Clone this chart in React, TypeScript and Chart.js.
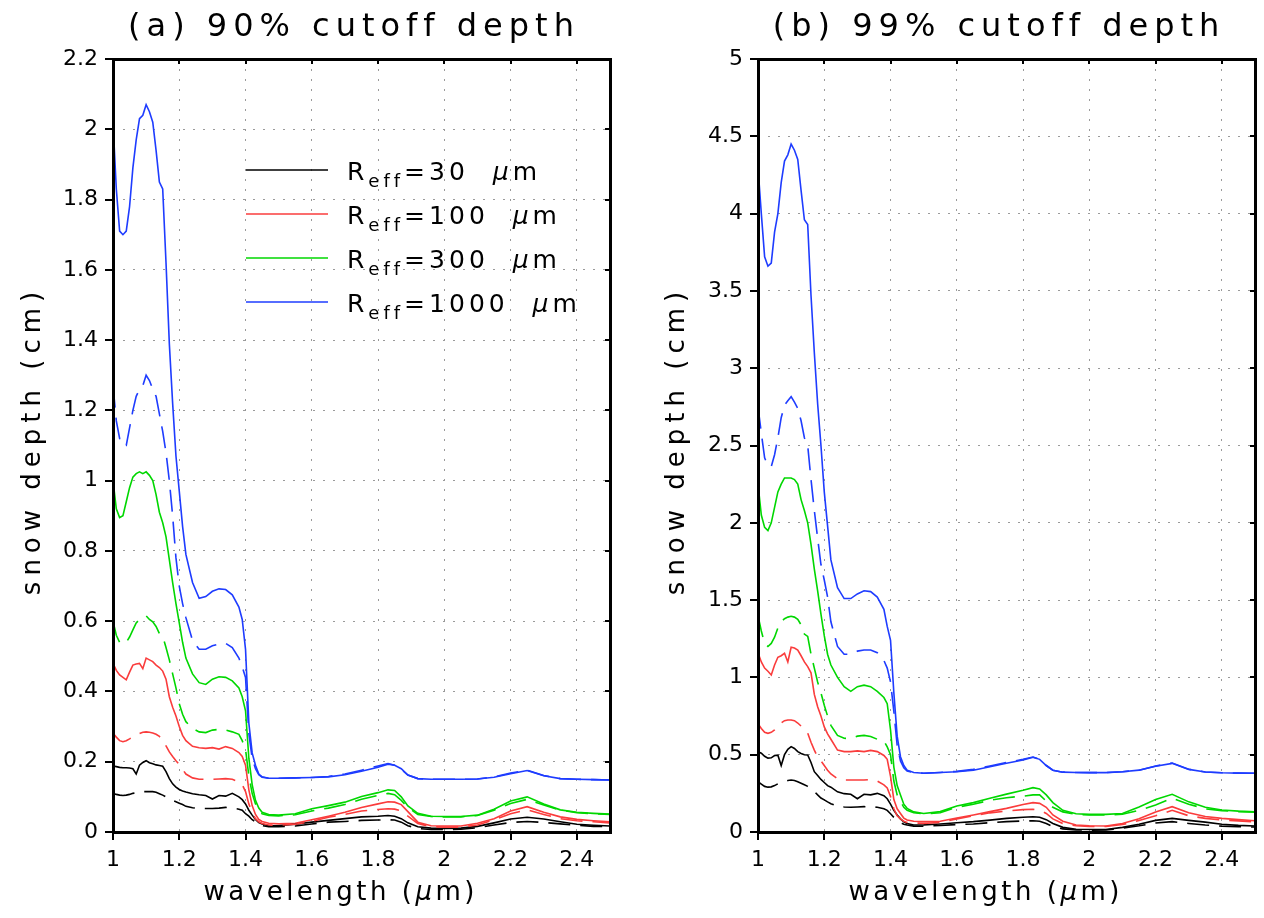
import React, { useEffect, useRef } from "react";
import { Chart, registerables } from "chart.js";

Chart.register(...registerables);

// ---------------- data ----------------
const WAVELENGTH = [
  1.00, 1.01, 1.02, 1.03, 1.04, 1.05, 1.06, 1.07, 1.08, 1.09,
  1.10, 1.11, 1.12, 1.13, 1.14, 1.15, 1.16, 1.17, 1.18, 1.19,
  1.20, 1.21, 1.22, 1.24, 1.26, 1.28, 1.30, 1.32, 1.34, 1.36,
  1.38, 1.39, 1.40, 1.41, 1.42, 1.43, 1.44, 1.45, 1.47, 1.50,
  1.55, 1.60, 1.65, 1.70, 1.75, 1.80, 1.83, 1.85, 1.87, 1.89,
  1.92, 1.96, 2.00, 2.05, 2.10, 2.15, 2.20, 2.25, 2.30, 2.35,
  2.40, 2.45, 2.50,
];

const X_TICKS = [1, 1.2, 1.4, 1.6, 1.8, 2, 2.2, 2.4];
const Y_TICKS_A = [0, 0.2, 0.4, 0.6, 0.8, 1, 1.2, 1.4, 1.6, 1.8, 2, 2.2];
const Y_TICKS_B = [0, 0.5, 1, 1.5, 2, 2.5, 3, 3.5, 4, 4.5, 5];

const RADII = ["30", "100", "300", "1000"];

// (a) 90% cutoff depth (cm)
const A_R30_SOLID = [
  0.188, 0.186, 0.184, 0.183, 0.183, 0.182, 0.180, 0.165, 0.190, 0.198,
  0.203, 0.197, 0.194, 0.191, 0.189, 0.187, 0.172, 0.152, 0.137, 0.128,
  0.121, 0.117, 0.114, 0.109, 0.106, 0.104, 0.094, 0.104, 0.102, 0.110,
  0.100, 0.092, 0.080, 0.062, 0.048, 0.036, 0.027, 0.023, 0.018, 0.018,
  0.022, 0.028, 0.033, 0.038, 0.043, 0.045, 0.047, 0.045, 0.038, 0.026,
  0.015, 0.011, 0.010, 0.011, 0.016, 0.026, 0.037, 0.042, 0.037, 0.029,
  0.022, 0.019, 0.017,
];
const A_R30_DASHED = [
  0.110, 0.107, 0.105, 0.104, 0.105, 0.107, 0.110, 0.112, 0.115, 0.115,
  0.115, 0.115, 0.115, 0.113, 0.109, 0.105, 0.100, 0.095, 0.090, 0.086,
  0.082, 0.078, 0.073, 0.069, 0.067, 0.067, 0.067, 0.068, 0.070, 0.068,
  0.065, 0.062, 0.052, 0.045, 0.035, 0.029, 0.022, 0.018, 0.015, 0.015,
  0.017, 0.023, 0.028, 0.030, 0.033, 0.034, 0.035, 0.034, 0.028, 0.018,
  0.010, 0.007, 0.007, 0.008, 0.012, 0.020, 0.027, 0.030, 0.027, 0.023,
  0.019, 0.016, 0.015,
];
const A_R100_SOLID = [
  0.480, 0.460, 0.447, 0.440, 0.433, 0.455, 0.475, 0.478, 0.480, 0.465,
  0.495, 0.490, 0.485, 0.475, 0.468, 0.458, 0.435, 0.385, 0.355, 0.330,
  0.300, 0.275, 0.260, 0.244, 0.240, 0.238, 0.240, 0.236, 0.243, 0.238,
  0.226, 0.215, 0.190, 0.120, 0.075, 0.050, 0.036, 0.030, 0.025, 0.023,
  0.025, 0.035, 0.045, 0.056, 0.070, 0.080, 0.086, 0.085, 0.078, 0.058,
  0.028, 0.018, 0.017, 0.017, 0.025, 0.038, 0.060, 0.072, 0.056, 0.043,
  0.036, 0.032, 0.029,
];
const A_R100_DASHED = [
  0.281, 0.270, 0.260, 0.257, 0.260, 0.265, 0.271, 0.276, 0.280, 0.284,
  0.285, 0.284, 0.282, 0.278, 0.272, 0.262, 0.245, 0.228, 0.215, 0.203,
  0.192, 0.178, 0.165, 0.154, 0.150, 0.150, 0.150, 0.151, 0.152, 0.150,
  0.143, 0.135, 0.115, 0.080, 0.055, 0.038, 0.029, 0.024, 0.020, 0.019,
  0.022, 0.030, 0.042, 0.050, 0.060, 0.064, 0.066, 0.065, 0.060, 0.045,
  0.024, 0.015, 0.014, 0.014, 0.020, 0.035, 0.052, 0.063, 0.050, 0.038,
  0.032, 0.029, 0.026,
];
const A_R300_SOLID = [
  1.000, 0.920, 0.895, 0.900, 0.940, 0.980, 1.010, 1.020, 1.025, 1.020,
  1.025, 1.015, 1.000, 0.960, 0.910, 0.880, 0.840, 0.775, 0.710, 0.650,
  0.595, 0.540, 0.495, 0.450, 0.425, 0.420, 0.435, 0.442, 0.440, 0.430,
  0.410, 0.385, 0.345, 0.210, 0.135, 0.090, 0.068, 0.056, 0.050, 0.048,
  0.052, 0.066, 0.075, 0.085, 0.101, 0.112, 0.120, 0.118, 0.100, 0.074,
  0.053, 0.045, 0.044, 0.044, 0.048, 0.065, 0.088, 0.100, 0.080, 0.063,
  0.056, 0.053, 0.051,
];
const A_R300_DASHED = [
  0.600, 0.560, 0.540, 0.535, 0.540, 0.555, 0.575, 0.595, 0.605, 0.610,
  0.615, 0.605, 0.598, 0.585, 0.565, 0.557, 0.525, 0.490, 0.450, 0.410,
  0.365, 0.335, 0.314, 0.295, 0.285, 0.283, 0.290, 0.292, 0.290, 0.285,
  0.278, 0.260, 0.235, 0.160, 0.110, 0.080, 0.062, 0.052, 0.047, 0.046,
  0.049, 0.060, 0.068, 0.078, 0.093, 0.104, 0.110, 0.106, 0.090, 0.070,
  0.050, 0.044, 0.043, 0.043, 0.047, 0.062, 0.081, 0.093, 0.077, 0.062,
  0.055, 0.052, 0.050,
];
const A_R1000_SOLID = [
  2.020, 1.830, 1.710, 1.700, 1.710, 1.780, 1.890, 1.970, 2.030, 2.040,
  2.070, 2.050, 2.020, 1.940, 1.850, 1.830, 1.620, 1.390, 1.220, 1.070,
  0.970, 0.870, 0.790, 0.710, 0.665, 0.670, 0.685, 0.692, 0.690, 0.675,
  0.640, 0.605, 0.520, 0.310, 0.225, 0.190, 0.165, 0.157, 0.153, 0.153,
  0.154, 0.155, 0.157, 0.163, 0.173, 0.184, 0.193, 0.190, 0.180, 0.162,
  0.152, 0.150, 0.150, 0.150, 0.151, 0.156, 0.166, 0.175, 0.160, 0.152,
  0.150, 0.149, 0.148,
];
const A_R1000_DASHED = [
  1.270, 1.170, 1.120, 1.100, 1.100, 1.150, 1.200, 1.240, 1.260, 1.270,
  1.300, 1.285, 1.260, 1.240, 1.190, 1.140, 1.080, 1.000, 0.900, 0.780,
  0.700, 0.650, 0.610, 0.545, 0.520, 0.520, 0.530, 0.535, 0.537, 0.525,
  0.495, 0.470, 0.440, 0.280, 0.210, 0.180, 0.163, 0.156, 0.153, 0.153,
  0.154, 0.155, 0.158, 0.165, 0.176, 0.188, 0.195, 0.190, 0.178, 0.162,
  0.152, 0.150, 0.150, 0.150, 0.151, 0.157, 0.168, 0.176, 0.161, 0.152,
  0.150, 0.149, 0.148,
];

// (b) 99% cutoff depth (cm)
const B_R30_SOLID = [
  0.520, 0.510, 0.490, 0.478, 0.480, 0.495, 0.497, 0.430, 0.500, 0.535,
  0.552, 0.540, 0.520, 0.508, 0.500, 0.498, 0.450, 0.390, 0.365, 0.340,
  0.320, 0.300, 0.290, 0.260, 0.248, 0.244, 0.215, 0.244, 0.240, 0.250,
  0.235, 0.215, 0.180, 0.140, 0.110, 0.085, 0.065, 0.055, 0.045, 0.046,
  0.052, 0.060, 0.067, 0.077, 0.088, 0.095, 0.099, 0.095, 0.080, 0.055,
  0.030, 0.018, 0.016, 0.016, 0.030, 0.050, 0.075, 0.088, 0.075, 0.064,
  0.050, 0.043, 0.039,
];
const B_R30_DASHED = [
  0.325, 0.310, 0.295, 0.290, 0.292, 0.300, 0.312, 0.322, 0.328, 0.333,
  0.336, 0.333, 0.325, 0.315, 0.305, 0.295, 0.280, 0.262, 0.240, 0.220,
  0.208, 0.195, 0.183, 0.167, 0.162, 0.160, 0.162, 0.164, 0.163, 0.160,
  0.150, 0.140, 0.118, 0.095, 0.075, 0.060, 0.050, 0.045, 0.038, 0.037,
  0.042, 0.048, 0.052, 0.060, 0.067, 0.071, 0.073, 0.070, 0.055, 0.035,
  0.020, 0.013, 0.012, 0.013, 0.025, 0.040, 0.058, 0.067, 0.055, 0.045,
  0.038, 0.034, 0.032,
];
const B_R100_SOLID = [
  1.160, 1.100, 1.060, 1.040, 1.016, 1.080, 1.130, 1.140, 1.156, 1.100,
  1.195, 1.190, 1.177, 1.140, 1.100, 1.070, 1.030, 0.890, 0.810, 0.750,
  0.680, 0.635, 0.600, 0.530, 0.520, 0.520, 0.525, 0.520, 0.528, 0.520,
  0.495, 0.470, 0.360, 0.210, 0.150, 0.120, 0.090, 0.078, 0.070, 0.067,
  0.070, 0.090, 0.110, 0.132, 0.153, 0.178, 0.190, 0.185, 0.160, 0.110,
  0.070, 0.045, 0.040, 0.039, 0.055, 0.085, 0.130, 0.164, 0.125, 0.100,
  0.088, 0.080, 0.073,
];
const B_R100_DASHED = [
  0.700, 0.670, 0.645, 0.638, 0.645, 0.660, 0.685, 0.705, 0.720, 0.724,
  0.724, 0.720, 0.705, 0.685, 0.670, 0.640, 0.580, 0.530, 0.485, 0.460,
  0.430, 0.400, 0.375, 0.345, 0.336, 0.336, 0.336, 0.336, 0.340, 0.330,
  0.305, 0.285, 0.230, 0.150, 0.105, 0.085, 0.070, 0.062, 0.058, 0.056,
  0.062, 0.085, 0.105, 0.124, 0.135, 0.145, 0.147, 0.140, 0.120, 0.085,
  0.055, 0.040, 0.036, 0.036, 0.048, 0.075, 0.105, 0.140, 0.105, 0.088,
  0.078, 0.072, 0.066,
];
const B_R300_SOLID = [
  2.250, 2.050, 1.970, 1.950, 2.000, 2.100, 2.200, 2.250, 2.290, 2.290,
  2.290, 2.280, 2.250, 2.150, 2.080, 2.000, 1.860, 1.700, 1.560, 1.410,
  1.270, 1.150, 1.080, 1.000, 0.940, 0.910, 0.940, 0.950, 0.940, 0.910,
  0.870, 0.830, 0.660, 0.420, 0.300, 0.240, 0.180, 0.153, 0.130, 0.120,
  0.132, 0.168, 0.190, 0.218, 0.245, 0.270, 0.287, 0.278, 0.240, 0.190,
  0.140, 0.118, 0.114, 0.114, 0.120, 0.162, 0.210, 0.244, 0.195, 0.160,
  0.142, 0.135, 0.131,
];
const B_R300_DASHED = [
  1.400, 1.300, 1.220, 1.200, 1.220, 1.260, 1.320, 1.360, 1.380, 1.390,
  1.395, 1.390, 1.375, 1.340, 1.280, 1.265, 1.150, 1.060, 0.970, 0.900,
  0.820, 0.750, 0.690, 0.625, 0.606, 0.605, 0.620, 0.625, 0.618, 0.600,
  0.590, 0.550, 0.500, 0.330, 0.240, 0.200, 0.160, 0.140, 0.125, 0.117,
  0.125, 0.160, 0.180, 0.205, 0.222, 0.232, 0.240, 0.240, 0.200, 0.160,
  0.130, 0.114, 0.110, 0.110, 0.115, 0.140, 0.175, 0.218, 0.180, 0.150,
  0.138, 0.132, 0.128,
];
const B_R1000_SOLID = [
  4.300, 4.000, 3.720, 3.660, 3.680, 3.880, 4.000, 4.200, 4.340, 4.380,
  4.450, 4.410, 4.350, 4.150, 3.960, 3.930, 3.470, 3.100, 2.770, 2.500,
  2.200, 1.980, 1.760, 1.580, 1.510, 1.510, 1.540, 1.560, 1.555, 1.520,
  1.440, 1.330, 1.240, 0.900, 0.620, 0.487, 0.430, 0.400, 0.385, 0.380,
  0.385, 0.390, 0.400, 0.422, 0.445, 0.466, 0.483, 0.470, 0.430, 0.400,
  0.387, 0.385, 0.384, 0.384, 0.390, 0.400, 0.425, 0.444, 0.405, 0.388,
  0.383, 0.381, 0.380,
];
const B_R1000_DASHED = [
  2.750, 2.580, 2.420, 2.370, 2.363, 2.440, 2.550, 2.680, 2.760, 2.790,
  2.816, 2.780, 2.740, 2.660, 2.550, 2.500, 2.280, 2.080, 1.900, 1.730,
  1.630, 1.520, 1.360, 1.200, 1.150, 1.150, 1.170, 1.177, 1.177, 1.160,
  1.110, 1.060, 0.970, 0.780, 0.560, 0.460, 0.415, 0.395, 0.385, 0.380,
  0.385, 0.392, 0.405, 0.427, 0.450, 0.470, 0.485, 0.470, 0.430, 0.400,
  0.387, 0.385, 0.384, 0.384, 0.390, 0.400, 0.427, 0.446, 0.406, 0.388,
  0.383, 0.381, 0.380,
];

// ---------------- styling ----------------
const COLORS = ["#000000", "rgb(250,60,60)", "rgb(0,215,0)", "rgb(30,60,255)"];
const FONT = "'DejaVu Sans', 'Liberation Sans', sans-serif";

type PanelCfg = {
  title: string;
  yMax: number;
  yTicks: number[];
  solids: number[][];
  dashes: number[][];
  leftW: number;
  rightPad: number;
  titleCx: number;
  xTitleCx: number;
  yTitleCx: number;
  legend: boolean;
};

const PANEL_A: PanelCfg = {
  title: "(a) 90% cutoff depth",
  yMax: 2.2,
  yTicks: Y_TICKS_A,
  solids: [A_R30_SOLID, A_R100_SOLID, A_R300_SOLID, A_R1000_SOLID],
  dashes: [A_R30_DASHED, A_R100_DASHED, A_R300_DASHED, A_R1000_DASHED],
  leftW: 113,
  rightPad: 22,
  titleCx: 351,
  xTitleCx: 339,
  yTitleCx: 33,
  legend: true,
};
const PANEL_B: PanelCfg = {
  title: "(b) 99% cutoff depth",
  yMax: 5,
  yTicks: Y_TICKS_B,
  solids: [B_R30_SOLID, B_R100_SOLID, B_R300_SOLID, B_R1000_SOLID],
  dashes: [B_R30_DASHED, B_R100_DASHED, B_R300_DASHED, B_R1000_DASHED],
  leftW: 126,
  rightPad: 9,
  titleCx: 364,
  xTitleCx: 352,
  yTitleCx: 45,
  legend: false,
};

const PLOT_TOP = 59;
const PLOT_BOTTOM = 832;
const CANVAS_W = 632;
const CANVAS_H = 918;

type Run = { text: string; font: string; dy?: number };

function runsWidth(ctx: CanvasRenderingContext2D, runs: Run[]) {
  let w = 0;
  for (const r of runs) {
    ctx.font = r.font;
    w += ctx.measureText(r.text).width;
  }
  return w;
}
function drawRuns(ctx: CanvasRenderingContext2D, runs: Run[], x: number, y: number) {
  let cx = x;
  for (const r of runs) {
    ctx.font = r.font;
    ctx.fillText(r.text, cx, y + (r.dy || 0));
    cx += ctx.measureText(r.text).width;
  }
}

function makeDecor(cfg: PanelCfg) {
  return {
    id: "decor",
    afterDraw(chart: any) {
      const { ctx, chartArea: ca } = chart;
      ctx.save();
      ctx.fillStyle = "#000";
      ctx.textBaseline = "middle";
      ctx.textAlign = "left";

      // title
      (ctx as any).letterSpacing = "6px";
      const tRuns: Run[] = [{ text: cfg.title, font: `32px ${FONT}` }];
      const tw = runsWidth(ctx, tRuns) - 6;
      drawRuns(ctx, tRuns, cfg.titleCx - tw / 2, 28);

      // x title
      (ctx as any).letterSpacing = "3.5px";
      const xRuns: Run[] = [
        { text: "wavelength (", font: `26px ${FONT}` },
        { text: "μ", font: `italic 26px ${FONT}` },
        { text: "m)", font: `26px ${FONT}` },
      ];
      const xw = runsWidth(ctx, xRuns) - 3.5;
      drawRuns(ctx, xRuns, cfg.xTitleCx - xw / 2, 893);

      // y title
      (ctx as any).letterSpacing = "6px";
      const yRuns: Run[] = [{ text: "snow depth (cm)", font: `26px ${FONT}` }];
      const yw = runsWidth(ctx, yRuns) - 6;
      ctx.save();
      ctx.translate(cfg.yTitleCx, (ca.top + ca.bottom) / 2 - 2);
      ctx.rotate(-Math.PI / 2);
      drawRuns(ctx, yRuns, -yw / 2, 0);
      ctx.restore();

      // legend
      if (cfg.legend) {
        ctx.textBaseline = "alphabetic";
        (ctx as any).letterSpacing = "4px";
        RADII.forEach((r, i) => {
          const ly = 170 + i * 44;
          ctx.strokeStyle = COLORS[i];
          ctx.lineWidth = 1.6;
          ctx.setLineDash([]);
          ctx.beginPath();
          ctx.moveTo(246, ly);
          ctx.lineTo(328, ly);
          ctx.stroke();
          const runs: Run[] = [
            { text: "R", font: `25px ${FONT}` },
            { text: "eff", font: `18px ${FONT}`, dy: 7 },
            { text: "=" + r + "  ", font: `25px ${FONT}` },
            { text: "μ", font: `italic 25px ${FONT}` },
            { text: "m", font: `25px ${FONT}` },
          ];
          ctx.fillStyle = "#000";
          drawRuns(ctx, runs, 347, ly + 10);
        });
      }
      ctx.restore();
    },
  };
}

function fmt(v: number) {
  return String(Number(v.toFixed(1)));
}

// axis frame and tick marks as an overlay, aligned with the chart area
function Frame({ cfg }: { cfg: PanelCfg }) {
  const L = cfg.leftW;
  const R = CANVAS_W - cfg.rightPad;
  const T = PLOT_TOP;
  const B = PLOT_BOTTOM;
  const w = R - L;
  const h = B - T;
  const marks: React.ReactElement[] = [];
  const blk = (k: string, x: number, y: number, ww: number, hh: number) =>
    marks.push(
      <div
        key={k}
        style={{ position: "absolute", left: x, top: y, width: ww, height: hh, background: "#000" }}
      />
    );
  blk("t", L - 1.5, T - 1.5, w + 3, 3);
  blk("b", L - 1.5, B - 1.5, w + 3, 3);
  blk("l", L - 1.5, T - 1.5, 3, h + 3);
  blk("r", R - 1.5, T - 1.5, 3, h + 3);
  X_TICKS.forEach((v, i) => {
    const px = L + ((v - 1) / 1.5) * w;
    blk("xb" + i, px - 1, B, 2, 8);
    blk("xt" + i, px - 1, T, 2, 5);
  });
  cfg.yTicks.forEach((v, i) => {
    const py = B - (v / cfg.yMax) * h;
    blk("yl" + i, L - 8, py - 1, 8, 2);
    blk("yr" + i, R - 5, py - 1, 5, 2);
  });
  return <>{marks}</>;
}

function Panel({ cfg, left }: { cfg: PanelCfg; left: number }) {
  const ref = useRef<HTMLCanvasElement | null>(null);
  useEffect(() => {
    if (!ref.current) return;
    const datasets: any[] = [];
    for (let i = 0; i < 4; i++) {
      datasets.push({
        label: `R_eff=${RADII[i]} μm (dashed)`,
        data: WAVELENGTH.map((x, k) => ({ x, y: cfg.dashes[i][k] })),
        borderColor: COLORS[i],
        borderWidth: 1.6,
        borderDash: [22, 10],
        pointRadius: 0,
        tension: 0,
        fill: false,
      });
    }
    for (let i = 0; i < 4; i++) {
      datasets.push({
        label: `R_eff=${RADII[i]} μm`,
        data: WAVELENGTH.map((x, k) => ({ x, y: cfg.solids[i][k] })),
        borderColor: COLORS[i],
        borderWidth: 1.6,
        pointRadius: 0,
        tension: 0,
        fill: false,
      });
    }
    const tickFont = { family: FONT, size: 22 };
    const chart = new Chart(ref.current, {
      type: "line",
      data: { datasets },
      plugins: [makeDecor(cfg)],
      options: {
        responsive: false,
        animation: false,
        devicePixelRatio: 1,
        layout: { padding: { top: PLOT_TOP, right: cfg.rightPad, left: 0, bottom: 0 } },
        plugins: {
          legend: { display: false },
          tooltip: { enabled: false },
          title: { display: false },
        },
        scales: {
          x: {
            type: "linear",
            min: 1,
            max: 2.5,
            afterBuildTicks: (s: any) => {
              s.ticks = X_TICKS.map((v) => ({ value: v }));
            },
            afterFit: (s: any) => {
              s.height = CANVAS_H - PLOT_BOTTOM;
            },
            ticks: {
              callback: (v: any) => fmt(Number(v)),
              font: tickFont,
              color: "#000",
              padding: 7,
              maxRotation: 0,
              autoSkip: false,
            },
            grid: {
              color: "#9a9a9a",
              lineWidth: 1,
              tickLength: 8,
              tickColor: "rgba(0,0,0,0)",
            },
            border: { display: false, dash: [2, 8] },
          },
          y: {
            type: "linear",
            min: 0,
            max: cfg.yMax,
            afterBuildTicks: (s: any) => {
              s.ticks = cfg.yTicks.map((v) => ({ value: v }));
            },
            afterFit: (s: any) => {
              s.width = cfg.leftW;
            },
            ticks: {
              callback: (v: any) => fmt(Number(v)),
              font: tickFont,
              color: "#000",
              padding: 7,
              autoSkip: false,
            },
            grid: {
              color: "#9a9a9a",
              lineWidth: 1,
              tickLength: 8,
              tickColor: "rgba(0,0,0,0)",
            },
            border: { display: false, dash: [2, 8] },
          },
        },
      } as any,
    });
    return () => chart.destroy();
  }, [cfg]);
  return (
    <div style={{ position: "absolute", left, top: 0, width: CANVAS_W, height: CANVAS_H }}>
      <canvas
        ref={ref}
        width={CANVAS_W}
        height={CANVAS_H}
        style={{ position: "absolute", left: 0, top: 0, width: CANVAS_W, height: CANVAS_H }}
      />
      <Frame cfg={cfg} />
    </div>
  );
}

export default function App() {
  return (
    <div
      style={{
        position: "fixed",
        left: 0,
        top: 0,
        width: 1264,
        height: 918,
        background: "#fff",
        overflow: "hidden",
      }}
    >
      <Panel cfg={PANEL_A} left={0} />
      <Panel cfg={PANEL_B} left={632} />
    </div>
  );
}
